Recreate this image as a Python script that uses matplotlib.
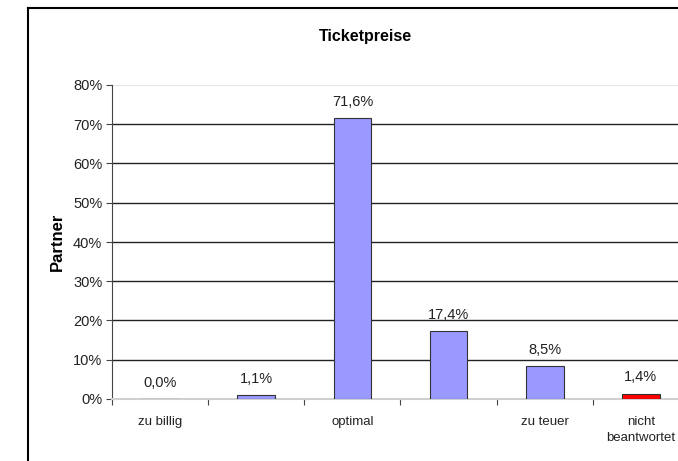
import numpy as np
import matplotlib.pyplot as plt
from matplotlib.lines import Line2D

plt.rcParams['font.family'] = ['Liberation Sans', 'DejaVu Sans']

# Daten
kategorien = ['zu billig', '', 'optimal', '', 'zu teuer', 'nicht\nbeantwortet']
werte = [0.0, 1.1, 71.6, 17.4, 8.5, 1.4]
farben = ['#9999FF', '#9999FF', '#9999FF', '#9999FF', '#9999FF', '#FF0000']
y_ticks = [0, 10, 20, 30, 40, 50, 60, 70, 80]

fig = plt.figure(figsize=(6.78, 4.61), dpi=100)
ax = fig.add_axes([112 / 678, 1 - 399 / 461, 577 / 678, 314 / 461])

x = np.arange(len(werte))
ax.bar(x, werte, width=0.39, color=farben, edgecolor='#333333', linewidth=0.8, zorder=3)

for xi, v in zip(x, werte):
    ax.text(xi, v + 2.3, f'{v:.1f}%'.replace('.', ','), ha='center', va='bottom',
            fontsize=10.5, color='#222222')

ax.set_xlim(-0.5, len(werte) - 0.5)
ax.set_ylim(0, 80)
ax.set_yticks(y_ticks)
ax.set_yticklabels([f'{t}%' for t in y_ticks], fontsize=10.5, color='#222222')

# Gitterlinien
for t in y_ticks[1:-1]:
    ax.axhline(t, color='#222222', linewidth=1.0, zorder=1)
ax.axhline(80, color='#e6e6e6', linewidth=1.5, zorder=1)

# Kategorien unter der Achse, Ticks an den Grenzen
ax.set_xticks(np.arange(len(werte) + 1) - 0.5)
ax.set_xticklabels([])
ax.set_xticks(x, minor=True)
ax.set_xticklabels(kategorien, minor=True, fontsize=9.5, color='#222222', linespacing=1.5)
ax.tick_params(axis='x', which='minor', length=0, pad=12)
ax.tick_params(axis='x', which='major', length=4, color='#444444')
ax.tick_params(axis='y', length=4, color='#444444', pad=3)

for s in ['top', 'right']:
    ax.spines[s].set_visible(False)
ax.spines['left'].set_color('#444444')
ax.spines['bottom'].set_color('#d0d0d0')
ax.spines['bottom'].set_linewidth(1.5)

fig.text(57 / 678, 1 - 242 / 461, 'Partner', rotation=90, ha='center', va='center',
         fontsize=12, fontweight='bold')

fig.text(365 / 678, 1 - 37 / 461, 'Ticketpreise', ha='center', va='center',
         fontsize=11.5, fontweight='bold')

# Rahmen um das Diagramm
fig.add_artist(Line2D([28 / 678, 28 / 678], [0, 1 - 8 / 461], color='black', linewidth=1.5))
fig.add_artist(Line2D([28 / 678, 1], [1 - 8 / 461, 1 - 8 / 461], color='black', linewidth=1.5))

fig.savefig('out.png', dpi=100)
